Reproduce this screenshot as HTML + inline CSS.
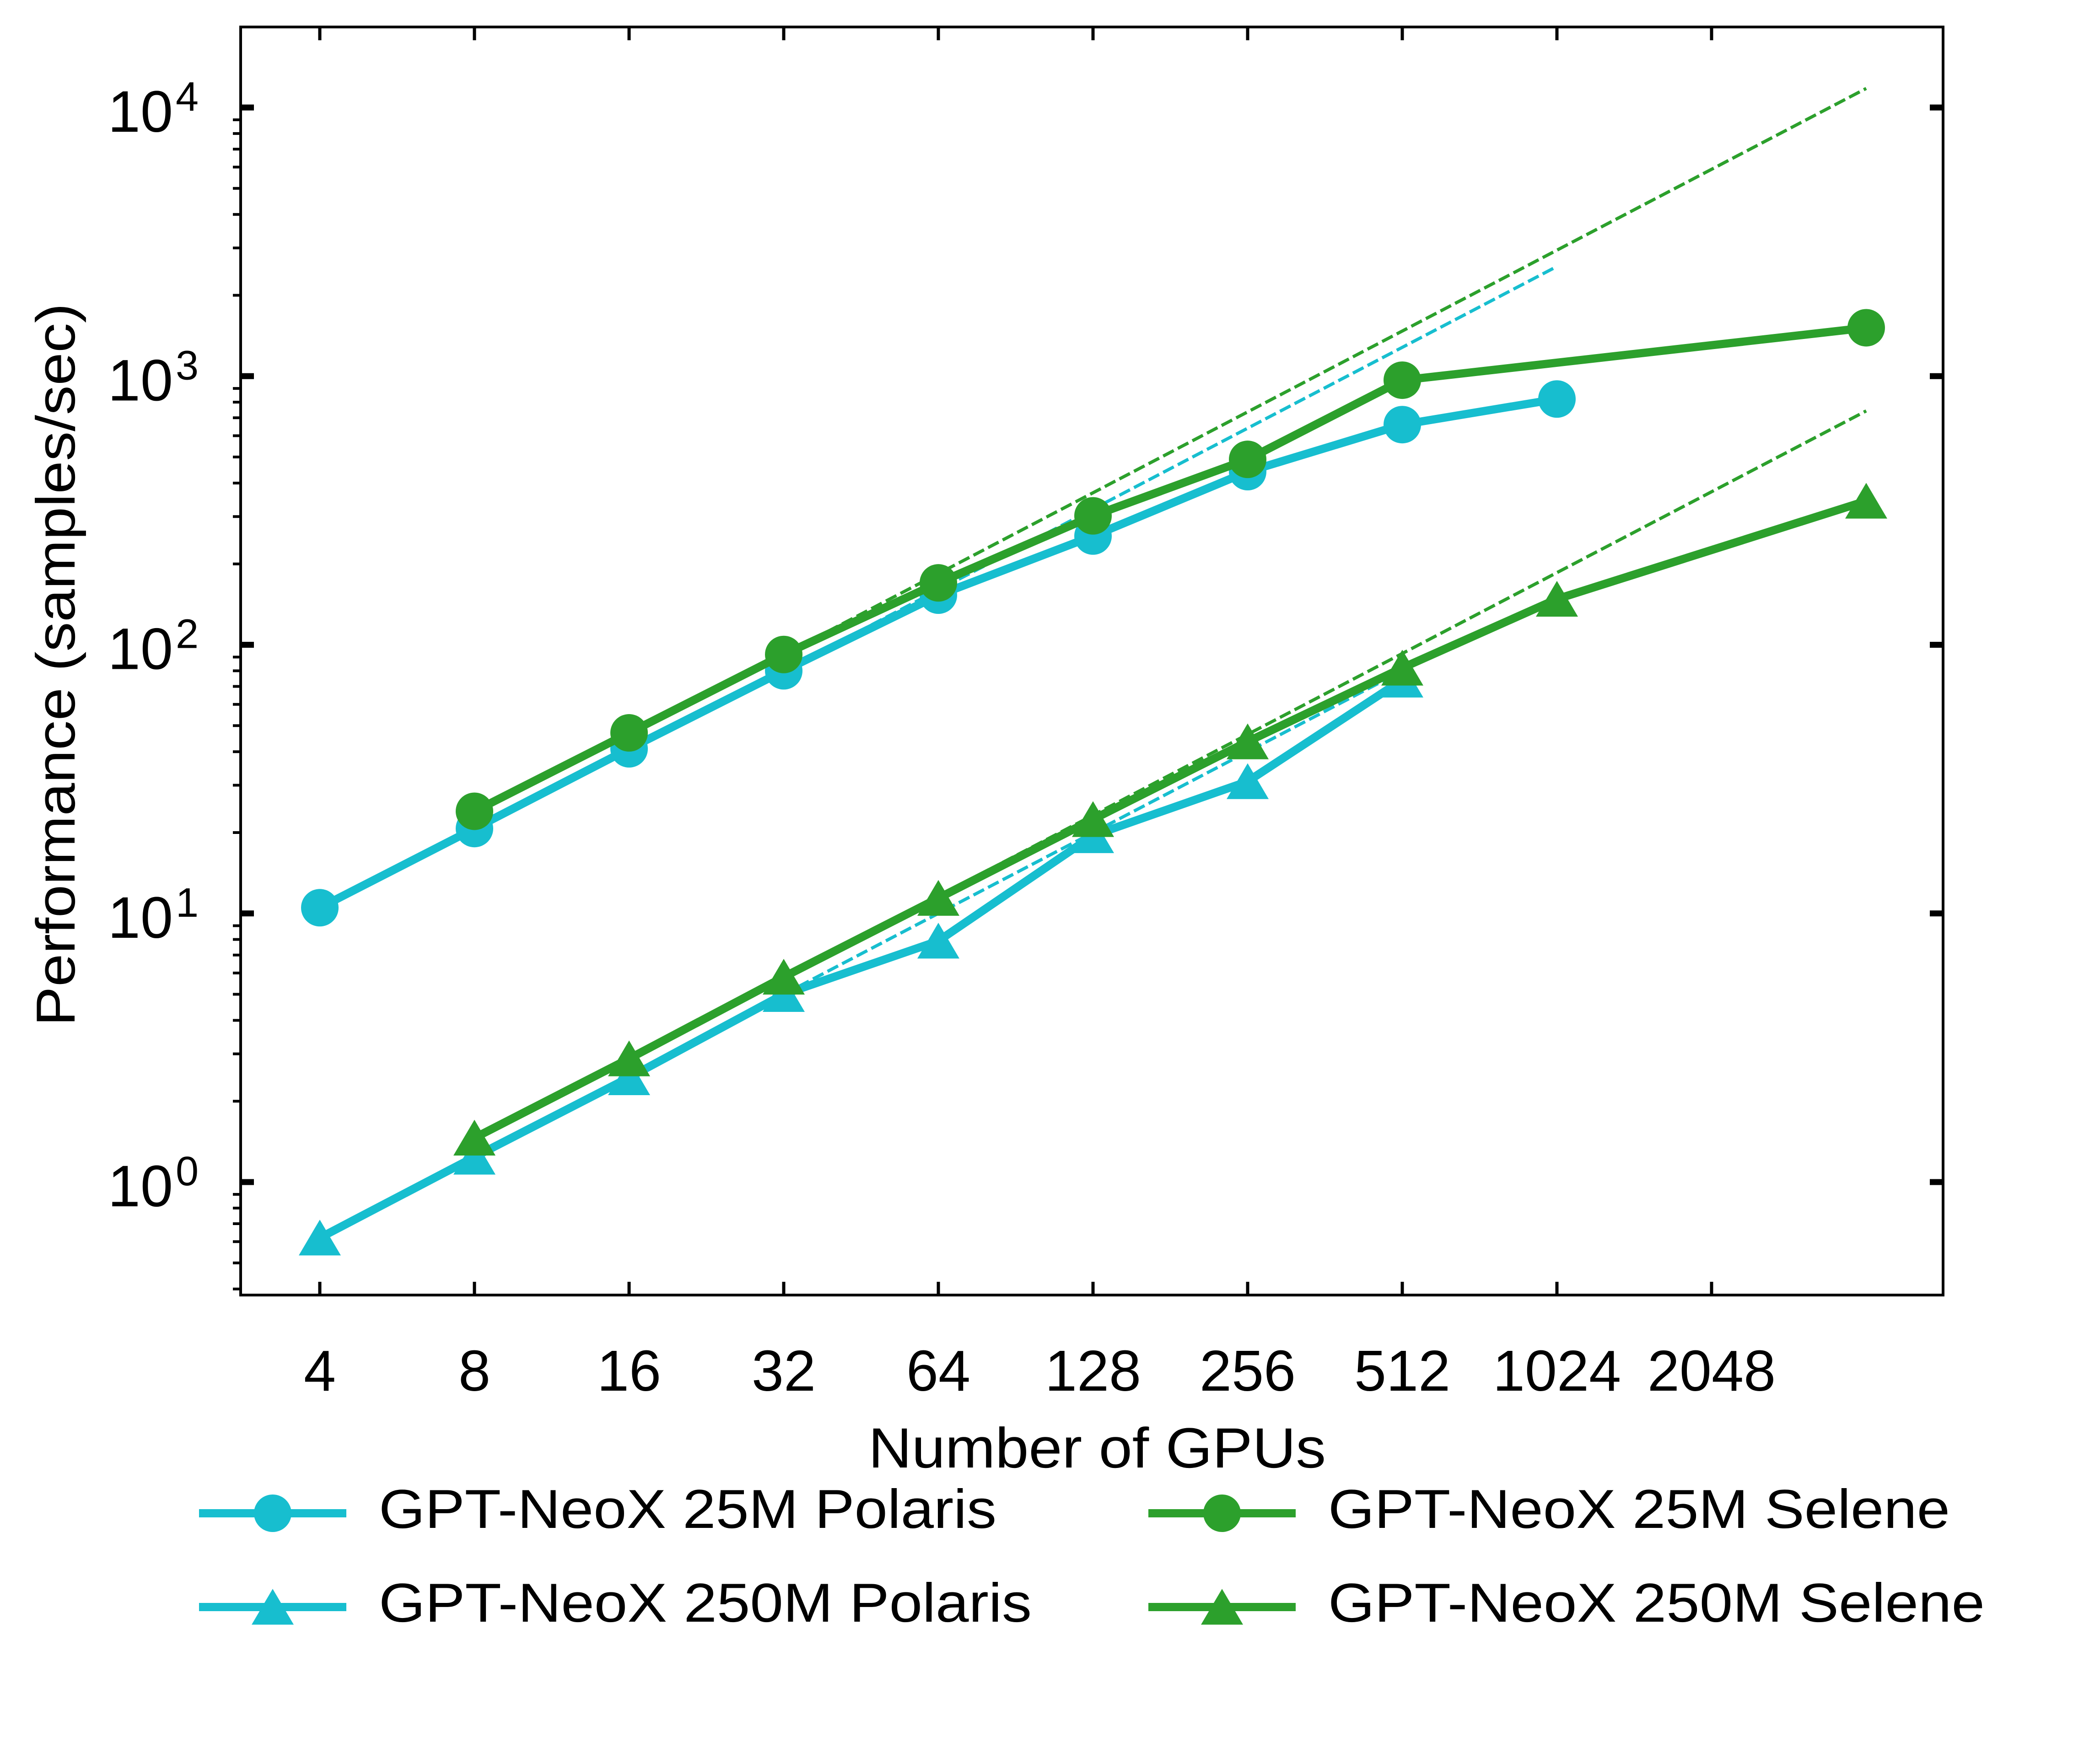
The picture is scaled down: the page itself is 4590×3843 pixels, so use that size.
<!DOCTYPE html>
<html><head><meta charset="utf-8"><style>
html,body{margin:0;padding:0;background:#fff;}
svg{display:block;font-family:"Liberation Sans",sans-serif;}
</style></head><body>
<svg id="chart" width="4590" height="3843" viewBox="0 0 4590 3843" xmlns="http://www.w3.org/2000/svg">
<g id="ideal"></g>
<g id="series"></g>
<g id="axes"></g>
<g id="legend"></g>
</svg>
<script>
const gpus = [4, 8, 16, 32, 64, 128, 256, 512, 1024, 4096];
const xTickLabels = ["4","8","16","32","64","128","256","512","1024","2048"];
const xTickValues = [4,8,16,32,64,128,256,512,1024,2048];
const yTickExps = [0,1,2,3,4];
const polaris25M  = [10.5, 20.7, 41, 80, 153, 254, 441, 660, 822, null];
const selene25M   = [null, 24, 47, 92, 170, 302, 490, 966, null, 1514];
const polaris250M = [0.62, 1.24, 2.45, 5.0, 7.9, 19.5, 31, 74, null, null];
const selene250M  = [null, 1.46, 2.88, 5.8, 11.4, 22.4, 43.6, 82, 148, 343];
// ideal scaling: [startIndex, endIndex]
const idealPolaris25M = [3, 8];
const idealSelene25M = [3, 9];
const idealPolaris250M = [3, 7];
const idealSelene250M = [3, 9];

const CYAN = "#17becf", GREEN = "#2ca02c";
const L = 526, R = 4247, T = 59, B = 2831;
const x4 = 699, oct = 338;
const y0 = 2584, dec = 587.25;
function xs(v){ return x4 + Math.log2(v/4)*oct; }
function ys(v){ return y0 - Math.log10(v)*dec; }
const NS = "http://www.w3.org/2000/svg";
function mk(tag, attrs, parent){
  const e = document.createElementNS(NS, tag);
  for (const k in attrs) e.setAttribute(k, attrs[k]);
  parent.appendChild(e); return e;
}
const gI = document.getElementById('ideal'), gS = document.getElementById('series'),
      gA = document.getElementById('axes'), gL = document.getElementById('legend');

function ideal(vals, rng, color, name){
  const i0 = rng[0], i1 = rng[1];
  const v0 = vals[i0];
  const v1 = v0 * gpus[i1] / gpus[i0];
  const ln = mk('line', {x1: xs(gpus[i0]), y1: ys(v0), x2: xs(gpus[i1]), y2: ys(v1), stroke: color, 'stroke-width': 7, 'stroke-dasharray': '26 10'}, gI);
  
  
}
ideal(polaris25M, idealPolaris25M, CYAN, 'ideal-25m-polaris');
ideal(polaris250M, idealPolaris250M, CYAN, 'ideal-250m-polaris');
ideal(selene25M, idealSelene25M, GREEN, 'ideal-25m-selene');
ideal(selene250M, idealSelene250M, GREEN, 'ideal-250m-selene');

function triPts(cx, cy, s){ return `${cx},${cy-s*0.95} ${cx-s},${cy+s*0.75} ${cx+s},${cy+s*0.75}`; }
function series(vals, color, marker, name){
  const g = mk('g', {}, gS);
  
  
  const pts = [];
  vals.forEach((v,i)=>{ if (v!=null) pts.push([xs(gpus[i]), ys(v)]); });
  const pl = mk('polyline', {points: pts.map(p=>p.join(',')).join(' '), fill:'none', stroke: color, 'stroke-width': 18, 'stroke-linejoin':'round'}, g);
  
  
  pts.forEach(p=>{
    let m;
    if (marker==='circle') m = mk('circle', {cx:p[0], cy:p[1], r:41, fill:color}, g);
    else m = mk('polygon', {points: triPts(p[0], p[1]+4, 46), fill:color}, g);
    
    
  });
}
series(polaris25M, CYAN, 'circle', 'series-25m-polaris');
series(polaris250M, CYAN, 'tri', 'series-250m-polaris');
series(selene25M, GREEN, 'circle', 'series-25m-selene');
series(selene250M, GREEN, 'tri', 'series-250m-selene');

const fr = mk('rect', {x:L, y:T, width:R-L, height:B-T, fill:'none', stroke:'#000', 'stroke-width':6}, gA);


xTickValues.forEach((v,i)=>{
  const x = xs(v);
  const t1 = mk('line', {x1:x, y1:B, x2:x, y2:B-29, stroke:'#000', 'stroke-width':7}, gA);
  
  
  const t2 = mk('line', {x1:x, y1:T, x2:x, y2:T+29, stroke:'#000', 'stroke-width':7}, gA);
  
  
  const tx = mk('text', {x:x, y:3040, 'font-size':126, 'text-anchor':'middle', fill:'#000'}, gA);
  tx.textContent = xTickLabels[i];
  
  
});
yTickExps.forEach(e=>{
  const y = y0 - e*dec;
  const t1 = mk('line', {x1:L, y1:y, x2:L+29, y2:y, stroke:'#000', 'stroke-width':13}, gA);
  
  
  const t2 = mk('line', {x1:R, y1:y, x2:R-29, y2:y, stroke:'#000', 'stroke-width':13}, gA);
  
  
  const tx = mk('text', {x:378, y:y+53, 'font-size':128, 'text-anchor':'end', fill:'#000'}, gA);
  tx.textContent = '10';
  
  
  const sp = mk('text', {x:384, y:y+7, 'font-size':90, 'text-anchor':'start', fill:'#000'}, gA);
  sp.textContent = String(e);
  
  
});
for (let e=-1; e<=4; e++){
  for (let m=2; m<=9; m++){
    const v = m*Math.pow(10,e);
    const y = ys(v);
    if (y < T || y > B) continue;
    const t = mk('line', {x1:L, y1:y, x2:L-17, y2:y, stroke:'#000', 'stroke-width':6}, gA);
    
    
  }
}
const xt = mk('text', {x:2398, y:3208, 'font-size':124, 'text-anchor':'middle', fill:'#000', textLength:1000, lengthAdjust:'spacingAndGlyphs'}, gA);
xt.textContent = 'Number of GPUs';


const yt = mk('text', {x:0, y:0, 'font-size':120, 'text-anchor':'middle', fill:'#000', transform:'translate(163,1453) rotate(-90)', textLength:1580, lengthAdjust:'spacingAndGlyphs'}, gA);
yt.textContent = 'Performance (samples/sec)';



const legendItems = [
  ['GPT-NeoX 25M Polaris', CYAN, 'circle', 435, 3308, 2178],
  ['GPT-NeoX 250M Polaris', CYAN, 'tri', 435, 3513, 2255],
  ['GPT-NeoX 25M Selene', GREEN, 'circle', 2510, 3308, 4262],
  ['GPT-NeoX 250M Selene', GREEN, 'tri', 2510, 3513, 4338]
];
legendItems.forEach(it=>{
  const g = mk('g', {}, gL);
  
  
  const x = it[3], y = it[4];
  const ln = mk('line', {x1:x, y1:y, x2:x+322, y2:y, stroke:it[1], 'stroke-width':18}, g);
  
  
  let m;
  if (it[2]==='circle') m = mk('circle', {cx:x+161, cy:y, r:41, fill:it[1]}, g);
  else m = mk('polygon', {points: triPts(x+161, y+4, 46), fill:it[1]}, g);
  
  
  const tx = mk('text', {x:x+393, y:y+32, 'font-size':120, fill:'#000', textLength:it[5]-(x+393), lengthAdjust:'spacingAndGlyphs'}, g);
  tx.textContent = it[0];
  
  
});
</script>
</body></html>
